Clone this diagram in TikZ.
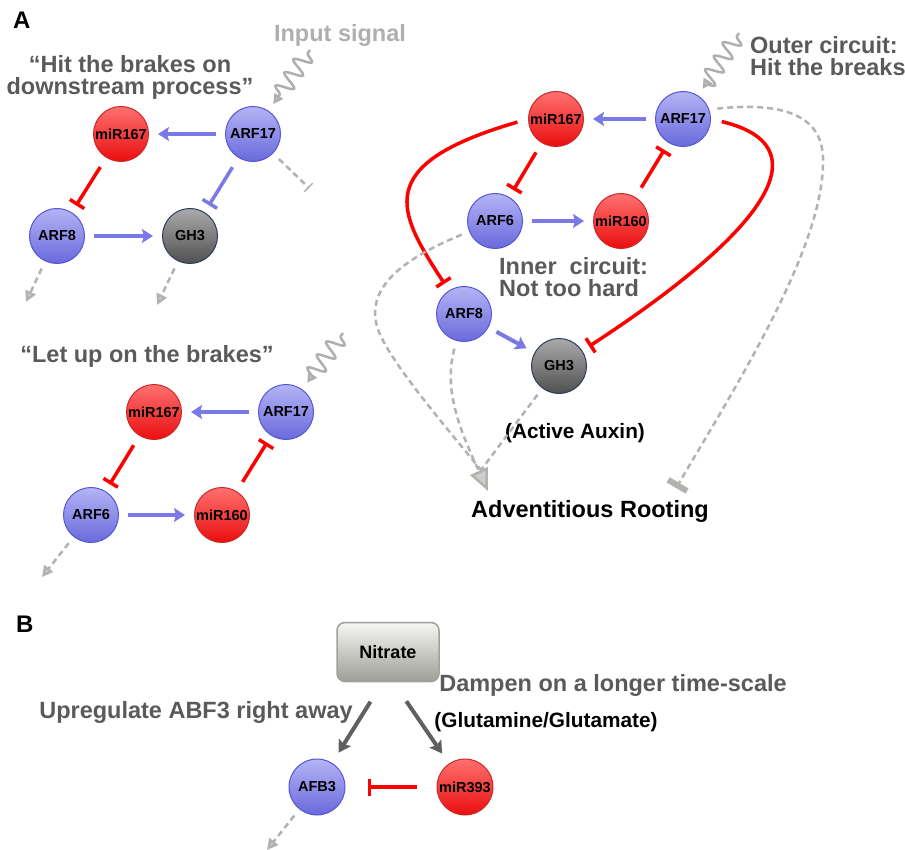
\documentclass[tikz,border=0pt]{standalone}
\usepackage{fontspec}
\setmainfont{Liberation Sans}
\usepackage{tikz}
\usetikzlibrary{calc,arrows.meta,decorations.pathmorphing}

\definecolor{arfline}{RGB}{85,85,218}
\definecolor{arftop}{RGB}{180,180,245}
\definecolor{arfbot}{RGB}{105,105,220}
\definecolor{mirline}{RGB}{205,40,40}
\definecolor{mirtop}{RGB}{255,112,112}
\definecolor{mirbot}{RGB}{234,14,14}
\definecolor{ghline}{RGB}{45,60,90}
\definecolor{ghtop}{RGB}{170,170,170}
\definecolor{ghbot}{RGB}{80,80,80}
\definecolor{nitline}{RGB}{160,160,156}
\definecolor{nittop}{RGB}{246,246,243}
\definecolor{nitbot}{RGB}{158,158,152}
\definecolor{actblue}{RGB}{122,122,230}
\definecolor{txtgray}{RGB}{90,90,90}
\definecolor{siggray}{RGB}{175,175,175}
\definecolor{dashgray}{RGB}{178,178,174}
\definecolor{tipgray}{RGB}{205,205,203}
\definecolor{pushgray}{RGB}{96,96,96}

\begin{document}
\begin{tikzpicture}[x=1pt, y=-1pt,
    arf/.style={circle, draw=arfline, line width=1pt, minimum size=55pt, inner sep=0pt,
      top color=arftop, bottom color=arfbot, font=\fontsize{14.5}{14.5}\selectfont\bfseries},
    mir/.style={arf, draw=mirline, top color=mirtop, bottom color=mirbot},
    gh/.style={arf, draw=ghline, top color=ghtop, bottom color=ghbot},
    act/.style={draw=actblue, line width=4pt, -{Stealth[length=11pt,width=14pt,inset=2pt]},
      shorten <=9pt, shorten >=9pt},
    rep/.style={draw=red, line width=3.5pt, -{Bar[width=17pt]}, shorten <=11pt, shorten >=8pt},
    brep/.style={rep, draw=actblue},
    flow/.style={draw=dashgray, line width=2.5pt, dash pattern=on 6pt off 4pt,
      -{Triangle[length=11pt,width=11pt,fill=tipgray]}, shorten <=8pt},
    flowbar/.style={flow, -{Bar[width=12pt,line width=1.5pt]}},
    sig/.style={draw=siggray, line width=2.5pt, decorate,
      decoration={snake, amplitude=8.5pt, segment length=16pt, pre length=4pt, post length=12pt},
      -{Triangle[length=10pt,width=10pt,fill=tipgray]}, shorten >=8pt},
    nitro/.style={draw=pushgray, line width=4pt, -{Stealth[length=12pt,width=14pt,inset=2pt]},
      shorten <=23pt, shorten >=12pt},
    capt/.style={font=\fontsize{23.5}{22}\selectfont\bfseries, text=txtgray, inner sep=0pt},
    note/.style={font=\fontsize{20.8}{22}\selectfont\bfseries, inner sep=0pt},
    panel/.style={font=\fontsize{24}{24}\selectfont\bfseries, inner sep=0pt, anchor=base west},
  ]
  \useasboundingbox (0,0) rectangle (905,850);

  % A
  \node[panel] (pa) at (13,29) {A};

  % Hit the brakes
  \node[capt, anchor=base, text=siggray] (insig) at (340,42) {Input signal};
  \node[capt, align=center] (hit) at (130,77) {“Hit the brakes on\\downstream process”};
  \node[mir] (hm167) at (121,134) {miR167};
  \node[arf] (ha17) at (253,134) {ARF17};
  \node[arf] (ha8) at (57,236) {ARF8};
  \node[gh] (hg3) at (190,236) {GH3};
  \coordinate (hin) at (310,50);
  \coordinate (hoff) at (309,188);
  \coordinate (hout8) at (26,302);
  \coordinate (houtg) at (157,305);
  \draw[sig] (hin) -- (ha17);
  \draw[act] (ha17) -- (hm167);
  \draw[rep] (hm167) -- (ha8);
  \draw[brep] (ha17) -- (hg3);
  \draw[act] (ha8) -- (hg3);
  \draw[flowbar] (ha17) -- (hoff);
  \draw[flow] (ha8) -- (hout8);
  \draw[flow] (hg3) -- (houtg);

  % Let up on the brakes
  \node[capt, anchor=base] (let) at (147,362) {“Let up on the brakes”};
  \node[mir] (lm167) at (154,412) {miR167};
  \node[arf] (la17) at (286,412) {ARF17};
  \node[arf] (la6) at (91,515) {ARF6};
  \node[mir] (lm160) at (222,515) {miR160};
  \coordinate (lin) at (343,333);
  \coordinate (lout6) at (42,577);
  \draw[sig] (lin) -- (la17);
  \draw[act] (la17) -- (lm167);
  \draw[rep] (lm167) -- (la6);
  \draw[act] (la6) -- (lm160);
  \draw[rep] (lm160) -- (la17);
  \draw[flow] (la6) -- (lout6);

  % Outer and inner circuit
  \node[capt, align=left, anchor=west] (outer) at (750,56) {Outer circuit:\\Hit the breaks};
  \node[capt, align=left, anchor=west] (inner) at (499,277) {Inner~ circuit:\\Not too hard};
  \node[mir] (cm167) at (556,119) {miR167};
  \node[arf] (ca17) at (683,119) {ARF17};
  \node[arf] (ca6) at (495,221) {ARF6};
  \node[mir] (cm160) at (621,221) {miR160};
  \node[arf] (ca8) at (464,314) {ARF8};
  \node[gh] (cg3) at (559,366) {GH3};
  \node[note, anchor=base] (aux) at (575,438) {(Active Auxin)};
  \node[capt, text=black, anchor=base] (root) at (590,517) {Adventitious Rooting};
  \coordinate (cin) at (739,33);
  \coordinate (rtip) at (488,491);
  \coordinate (rin) at (481,470);
  \coordinate (rbar) at (676,488);
  \draw[sig] (cin) -- (ca17);
  \draw[act] (ca17) -- (cm167);
  \draw[rep] (cm167) -- (ca6);
  \draw[act] (ca6) -- (cm160);
  \draw[rep] (cm160) -- (ca17);
  \draw[act] (ca8) -- (cg3);
  \draw[rep] (cm167.west) .. controls (370,165) and (398,212) .. (ca8);
  \draw[rep] (ca17.east) .. controls (820,145) and (775,225) .. (cg3);
  \draw[flow, -{Bar[width=22pt,line width=6pt]}] (ca17.20) .. controls (800,100) and (825,125) .. (823,165)
    .. controls (821,250) and (740,380) .. (rbar);
  \draw[flow, -] (ca6) .. controls (395,262) and (370,290) .. (376,322)
    .. controls (380,350) and (440,420) .. (rin);
  \draw[flow, -] (cg3) -- (rin);
  \draw[flow, -{Triangle[length=22pt,width=19pt,fill=tipgray]}] (ca8) .. controls (443,390) and (460,430) .. (rtip);

  % B
  \node[panel] (pb) at (16,632) {B};
  \node[draw=nitline, line width=1.5pt, rounded corners=8pt, minimum width=102pt, minimum height=59pt,
    top color=nittop, bottom color=nitbot, font=\fontsize{18}{18}\selectfont\bfseries] (nit) at (388,652) {Nitrate};
  \node[arf, minimum size=56pt] (afb) at (317,787) {AFB3};
  \node[mir, minimum size=56pt] (m393) at (465,787) {miR393};
  \node[capt, anchor=base] (upr) at (196,718) {Upregulate ABF3 right away};
  \node[capt, anchor=base] (dmp) at (613,691) {Dampen on a longer time-scale};
  \node[note, anchor=base] (glu) at (546,727) {(Glutamine/Glutamate)};
  \coordinate (nout) at (267,850);
  \draw[nitro] (nit.-100) -- (afb);
  \draw[nitro] (nit.-80) -- (m393);
  \draw[rep, shorten <=20pt, shorten >=22pt] (m393) -- (afb);
  \draw[flow] (afb) -- (nout);
\end{tikzpicture}
\end{document}
